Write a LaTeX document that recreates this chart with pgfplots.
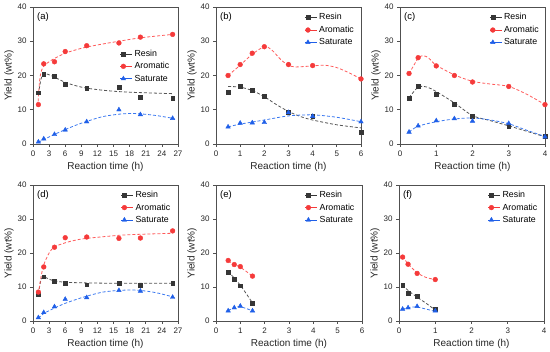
\documentclass[border=0pt]{standalone}
\usepackage{pgfplots}
\pgfplotsset{compat=1.18}
\usepackage{fontspec}
\setmainfont{Liberation Sans}
\definecolor{axgray}{HTML}{505050}
\definecolor{resinc}{HTML}{363636}
\definecolor{resinl}{HTML}{555555}
\definecolor{aroc}{HTML}{F53A3A}
\definecolor{arol}{HTML}{FF5A5A}
\definecolor{satc}{HTML}{1F5FE8}
\definecolor{satl}{HTML}{3A78F0}
\tikzset{plabel/.style={font=\fontsize{9.5}{10}\selectfont, anchor=north west, inner sep=1pt}}
\pgfplotsset{
  panel/.style={
    scale only axis, width=145pt, height=137pt,
    ymin=0, ymax=40, ytick={0,10,20,30,40},
    axis line style={draw=axgray, line width=0.7pt},
    tick align=outside, xtick pos=left, ytick pos=left,
    major tick length=3pt,
    tick style={draw=axgray, line width=0.7pt},
    /pgf/number format/assume math mode=true,
    tick label style={font=\fontsize{8}{9}\selectfont, text=black!85},
    label style={font=\fontsize{10}{12}\selectfont, text=black!85},
    xlabel={Reaction time (h)}, ylabel={Yield (wt\%)},
    xlabel style={yshift=1pt}, ylabel style={yshift=-3pt},
    legend style={draw=none, fill=none, font=\fontsize{8.8}{10}\selectfont, row sep=0.6pt, inner sep=1pt},
    legend cell align=left,
    legend image code/.code={\path (0pt,0pt) -- (12pt,0pt); \draw[##1] plot coordinates {(3pt,0pt)};},
  },
  resin/.style={only marks, mark=square*, mark size=1.9pt, color=resinc},
  aro/.style={only marks, mark=*, mark size=2.4pt, color=aroc},
  sat/.style={only marks, mark=triangle*, mark size=2.6pt, color=satc},
  fitr/.style={smooth, color=resinl, line width=0.8pt, dash pattern=on 3pt off 2pt, forget plot, no marks},
  fita/.style={smooth, color=arol, line width=0.8pt, dash pattern=on 3pt off 2pt, forget plot, no marks},
  fits/.style={smooth, color=satl, line width=0.8pt, dash pattern=on 3pt off 2pt, forget plot, no marks},
}
\begin{document}
\begin{tikzpicture}
\useasboundingbox (0pt,0pt) rectangle (550pt,-352pt);
% (a)
\begin{axis}[panel, at={(33pt,-7pt)}, anchor=north west, xmin=0, xmax=27, xtick={0,3,...,27},
  legend style={at={(0.593,0.71)}, anchor=north west}]
\addplot[fitr] coordinates {(1,14.5)(1.5,19)(2,20.6)(3,20.2)(4,19.5)(6,18)(8,17)(10,16.3)(13,15.7)(16,15.3)(20,15)(26,14.7)};
\addplot[fita] coordinates {(0.9,11)(1.2,18)(1.5,21)(2,22.8)(3,24)(4,25)(6,26.5)(8,27.5)(10,28.3)(13,29.2)(16,30)(20,31)(26,32)};
\addplot[fits] coordinates {(1,0.5)(2,1.3)(4,2.8)(6,4.2)(8,5.5)(10,6.6)(13,8)(16,8.7)(18,8.9)(20,8.8)(23,8.3)(26,7.5)};
\addplot[resin] coordinates {(1,15)(2,20.3)(4,19.8)(6,17.4)(10,16.3)(16,16.6)(20,13.7)(26,13.4)};
\addplot[aro] coordinates {(1,11.5)(2,23.4)(4,24.0)(6,27.0)(10,28.7)(16,29.5)(20,31.2)(26,32.0)};
\addplot[sat] coordinates {(1,0.6)(2,1.5)(4,2.8)(6,4.1)(10,6.5)(16,10.0)(20,8.6)(26,7.5)};
\legend{Resin,Aromatic,Saturate}
\node[plabel] at (rel axis cs:0.02,0.97) {(a)};
\end{axis}
% (b)
\begin{axis}[panel, at={(216pt,-7pt)}, anchor=north west, xmin=0, xmax=6, xtick={0,1,...,6},
  legend style={at={(0.604,0.975)}, anchor=north west}]
\addplot[fitr] coordinates {(0.5,16.8)(1,16.6)(1.5,15.6)(2,13.8)(2.5,11.5)(3,9.5)(3.5,8)(4,7)(5,5.6)(6,4.7)};
\addplot[fita] coordinates {(0.5,20)(1,23)(1.5,26.2)(2,28.4)(2.3,27.5)(2.7,24.5)(3,23)(3.3,22.5)(4,22.8)(4.5,23)(5,22.3)(5.5,20.8)(6,19)};
\addplot[fits] coordinates {(0.5,5)(1,5.8)(2,7)(3,8.2)(4,8.5)(5,7.8)(6,6.5)};
\addplot[resin] coordinates {(0.5,15.2)(1,16.8)(1.5,15.6)(2,14.0)(3,9.2)(4,8.0)(6,3.5)};
\addplot[aro] coordinates {(0.5,20.0)(1,23.2)(1.5,26.5)(2,28.4)(3,23.2)(4,22.9)(6,19.0)};
\addplot[sat] coordinates {(0.5,5.0)(1,6.1)(1.5,6.2)(2,6.3)(3,9.2)(4,8.1)(6,6.5)};
\legend{Resin,Aromatic,Saturate}
\node[plabel] at (rel axis cs:0.02,0.97) {(b)};
\end{axis}
% (c)
\begin{axis}[panel, at={(400pt,-7pt)}, anchor=north west, xmin=0, xmax=4, xtick={0,1,...,4},
  legend style={at={(0.61,0.975)}, anchor=north west}]
\addplot[fitr] coordinates {(0.25,13.5)(0.5,16.6)(0.75,16.6)(1,15.3)(1.5,12)(2,8.3)(2.5,6.8)(3,5.3)(3.5,3.7)(4,2.1)};
\addplot[fita] coordinates {(0.25,20.5)(0.5,25)(0.65,25.8)(0.8,25)(1,23)(1.5,20.2)(2,18.3)(2.5,17.5)(3,16.8)(3.5,14.5)(4,11.5)};
\addplot[fits] coordinates {(0.25,3.5)(0.5,5.2)(1,6.5)(1.5,7.3)(2,7.6)(2.5,7)(3,5.9)(3.5,4)(4,2.2)};
\addplot[resin] coordinates {(0.25,13.3)(0.5,16.8)(1,14.5)(1.5,11.7)(2,8.0)(3,5.3)(4,2.2)};
\addplot[aro] coordinates {(0.25,20.6)(0.5,25.2)(1,22.8)(1.5,20.0)(2,18.1)(3,16.8)(4,11.5)};
\addplot[sat] coordinates {(0.25,3.5)(0.5,5.3)(1,6.8)(1.5,7.4)(2,6.7)(3,6.0)(4,2.1)};
\legend{Resin,Aromatic,Saturate}
\node[plabel] at (rel axis cs:0.02,0.97) {(c)};
\end{axis}
% (d)
\begin{axis}[panel, at={(33pt,-185pt)}, anchor=north west, height=136pt, xmin=0, xmax=27, xtick={0,3,...,27},
  legend style={at={(0.6,0.978)}, anchor=north west}]
\addplot[fitr] coordinates {(1,8)(1.5,12.2)(2,13)(3,12.3)(4,11.8)(6,11.4)(10,11.2)(16,11.1)(26,11.1)};
\addplot[fita] coordinates {(1,8)(1.5,13)(2,16.5)(3,20)(4,21.8)(6,23)(8,23.8)(10,24.3)(16,25.2)(20,25.5)(26,25.8)};
\addplot[fits] coordinates {(1,0.8)(2,2.2)(4,3.8)(6,5.2)(8,6.3)(10,7.3)(13,8.5)(16,9.0)(18,9.1)(20,9.0)(23,8.3)(26,7.1)};
\addplot[resin] coordinates {(1,7.8)(2,13.0)(4,11.7)(6,11.0)(10,10.7)(16,11.2)(20,10.5)(26,11.1)};
\addplot[aro] coordinates {(1,8.5)(2,15.9)(4,21.7)(6,24.5)(10,24.7)(16,24.3)(20,24.4)(26,26.5)};
\addplot[sat] coordinates {(1,1.0)(2,2.5)(4,4.2)(6,6.4)(10,6.9)(16,9.0)(20,8.8)(26,7.0)};
\legend{Resin,Aromatic,Saturate}
\node[plabel] at (rel axis cs:0.02,0.97) {(d)};
\end{axis}
% (e)
\begin{axis}[panel, at={(216pt,-185pt)}, anchor=north west, width=146pt, height=136pt, xmin=0, xmax=6, xtick={0,1,...,6},
  legend style={at={(0.603,0.978)}, anchor=north west}]
\addplot[fitr] coordinates {(0.5,14.6)(1,10.5)(1.5,5.3)};
\addplot[fita] coordinates {(0.5,17.6)(1,15.8)(1.5,13.2)};
\addplot[fits] coordinates {(0.5,3.1)(0.75,3.9)(1,4.2)(1.5,3)};
\addplot[resin] coordinates {(0.5,14.4)(0.75,12.4)(1,10.4)(1.5,5.2)};
\addplot[aro] coordinates {(0.5,17.8)(0.75,16.6)(1,16.0)(1.5,13.2)};
\addplot[sat] coordinates {(0.5,3.0)(0.75,3.9)(1,4.4)(1.5,3.0)};
\legend{Resin,Aromatic,Saturate}
\node[plabel] at (rel axis cs:0.02,0.97) {(e)};
\end{axis}
% (f)
\begin{axis}[panel, at={(399pt,-185pt)}, anchor=north west, height=136pt, xmin=0, xmax=4, xtick={0,1,...,4},
  legend style={at={(0.607,0.978)}, anchor=north west}]
\addplot[fitr] coordinates {(0.1,10.6)(0.25,9.0)(0.5,7)(0.75,5.2)(1,3.2)};
\addplot[fita] coordinates {(0.1,19)(0.25,16.8)(0.5,14.2)(0.75,12.8)(1,12.2)};
\addplot[fits] coordinates {(0.1,3.4)(0.25,3.9)(0.5,4.1)(1,2.8)};
\addplot[resin] coordinates {(0.1,10.5)(0.25,8.1)(0.5,7.2)(1,3.5)};
\addplot[aro] coordinates {(0.1,18.8)(0.25,16.7)(0.5,14.0)(1,12.2)};
\addplot[sat] coordinates {(0.1,3.5)(0.25,3.9)(0.5,4.3)(1,3.0)};
\legend{Resin,Aromatic,Saturate}
\node[plabel] at (rel axis cs:0.02,0.97) {(f)};
\end{axis}
\end{tikzpicture}
\end{document}
